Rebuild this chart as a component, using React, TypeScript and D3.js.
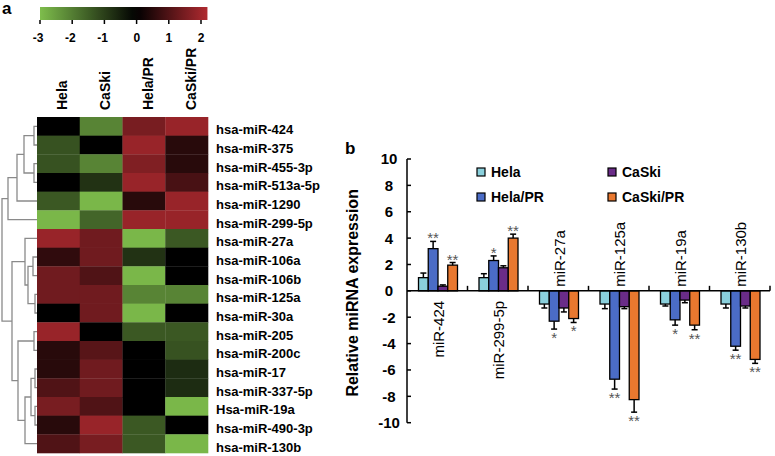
import React from "react";
import * as d3 from "d3";

// ---------- Heatmap data ----------
const heatCols = ["Hela", "CaSki", "Hela/PR", "CaSki/PR"];
const heatRows = [
  "hsa-miR-424", "hsa-miR-375", "hsa-miR-455-3p", "hsa-miR-513a-5p", "hsa-miR-1290",
  "hsa-miR-299-5p", "hsa-miR-27a", "hsa-miR-106a", "hsa-miR-106b", "hsa-miR-125a",
  "hsa-miR-30a", "hsa-miR-205", "hsa-miR-200c", "hsa-miR-17", "hsa-miR-337-5p",
  "Hsa-miR-19a", "hsa-miR-490-3p", "hsa-miR-130b",
];
const heatValues = [
  [0, -2.1, 1.5, 1.9],
  [-1.3, 0, 1.9, 0.5],
  [-1.3, -2.1, 1.6, 0.5],
  [0, -0.8, 1.9, 0.9],
  [-1.4, -2.9, 0.5, 1.9],
  [-2.9, -1.6, 1.9, 1.9],
  [1.9, 1.4, -2.9, -1.4],
  [0.6, 1.4, -0.8, 0],
  [1.4, 1.0, -2.9, 0],
  [1.4, 1.4, -2.1, -2.1],
  [0, 1.4, -2.9, 0],
  [1.9, 0, -1.4, -1.4],
  [0.5, 1.1, 0, -1.3],
  [0.5, 1.4, 0, -0.7],
  [1.0, 1.4, 0, -0.7],
  [1.5, 1.0, 0, -2.9],
  [0.5, 1.9, -1.4, 0],
  [1.0, 1.5, -1.4, -2.9],
];
const colorTicks = [-3, -2, -1, 0, 1, 2];
const colorDomain = [-3, 0, 2.2];

// Dendrogram merges: [nodeA, nodeB, height]; leaves 0..17, merge k -> node 18+k
const dendroMerges: [number, number, number][] = [
  [0, 1, 3],
  [2, 3, 3],
  [18, 19, 13],
  [20, 4, 20],
  [21, 5, 29],
  [7, 8, 4],
  [9, 10, 2],
  [23, 24, 9],
  [6, 25, 12],
  [11, 12, 3],
  [13, 14, 2],
  [15, 16, 2],
  [28, 29, 6],
  [30, 17, 12],
  [27, 31, 19],
  [26, 32, 25],
  [22, 33, 35],
];

// ---------- Bar chart data ----------
const barCats = ["miR-424", "miR-299-5p", "miR-27a", "miR-125a", "miR-19a", "miR-130b"];
const barSeries = ["Hela", "Hela/PR", "CaSki", "CaSki/PR"];
const helaVals = [1.0, 1.0, -1.0, -1.0, -1.0, -1.0];
const helaPRVals = [3.2, 2.3, -2.3, -6.7, -2.2, -4.2];
const caskiVals = [0.35, 1.75, -1.3, -1.2, -0.7, -1.15];
const caskiPRVals = [1.95, 4.0, -2.1, -8.25, -2.6, -5.2];
const helaErr = [0.35, 0.3, 0.3, 0.35, 0.15, 0.3];
const helaPRErr = [0.55, 0.35, 0.6, 0.75, 0.4, 0.3];
const caskiErr = [0.1, 0.15, 0.3, 0.15, 0.2, 0.15];
const caskiPRErr = [0.2, 0.3, 0.3, 0.95, 0.35, 0.3];
const helaStars = ["", "", "", "", "", ""];
const helaPRStars = ["**", "*", "*", "**", "*", "**"];
const caskiStars = ["", "", "", "", "", ""];
const caskiPRStars = ["**", "**", "*", "**", "**", "**"];
const yTicks = [-10, -8, -6, -4, -2, 0, 2, 4, 6, 8, 10];

const seriesValues = [helaVals, helaPRVals, caskiVals, caskiPRVals];
const seriesErrors = [helaErr, helaPRErr, caskiErr, caskiPRErr];
const seriesStars = [helaStars, helaPRStars, caskiStars, caskiPRStars];
const seriesColors = ["#8ad0dc", "#4b6cc6", "#6a2c88", "#e9782f"];

const FONT = "'Liberation Sans', Arial, Helvetica, sans-serif";

export default function App() {
  // Heatmap geometry
  const hx = d3.scaleBand<string>().domain(heatCols).range([37, 208]);
  const hy = d3.scaleBand<string>().domain(heatRows).range([117, 453]);
  const color = d3
    .scaleLinear<string>()
    .domain(colorDomain)
    .range(["#7ebd4c", "#000000", "#b02a30"])
    .interpolate(d3.interpolateRgb);
  const cbx = d3.scaleLinear().domain([-3, 2]).range([40, 201]);
  const cbTop = 7;
  const cbBottom = 20;

  // Dendrogram
  const dx = d3.scaleLinear().domain([0, 35]).range([37, 2]);
  const nodeY: number[] = heatRows.map((r) => (hy(r) as number) + hy.bandwidth() / 2);
  const nodeX: number[] = heatRows.map(() => 37);
  const dendroPaths: string[] = [];
  dendroMerges.forEach(([a, b, h]) => {
    const x = dx(h);
    const p = d3.path();
    p.moveTo(nodeX[a], nodeY[a]);
    p.lineTo(x, nodeY[a]);
    p.lineTo(x, nodeY[b]);
    p.lineTo(nodeX[b], nodeY[b]);
    dendroPaths.push(p.toString());
    nodeY.push((nodeY[a] + nodeY[b]) / 2);
    nodeX.push(x);
  });

  // Bar chart geometry
  const bx = d3.scaleBand<string>().domain(barCats).range([407, 770]);
  const bInner = d3.scaleBand<string>().domain(barSeries).range([11.5, 50.5]);
  const by = d3.scaleLinear().domain([-10, 10]).range([422.7, 159]);
  const y0 = by(0);

  const gradStops = d3.range(0, 21).map((i) => {
    const v = colorDomain[0] + ((colorDomain[2] - colorDomain[0]) * i) / 20;
    return { offset: `${i * 5}%`, color: color(v) };
  });

  return (
    <svg
      width={775}
      height={456}
      style={{ position: "absolute", left: 0, top: 0, background: "#fff" }}
      fontFamily={FONT}
    >
      <defs>
        <linearGradient id="cbGrad" x1="0" x2="1" y1="0" y2="0">
          {gradStops.map((s, i) => (
            <stop key={i} offset={s.offset} stopColor={s.color} />
          ))}
        </linearGradient>
      </defs>
      <rect x={0} y={0} width={775} height={456} fill="#fff" />

      {/* Panel a */}
      <text x={2} y={14} fontSize={17} fontWeight="bold">a</text>

      {/* Color bar */}
      <rect
        x={cbx(-3)}
        y={cbTop}
        width={cbx(colorDomain[2]) - cbx(-3)}
        height={cbBottom - cbTop}
        fill="url(#cbGrad)"
      />
      {colorTicks.map((t) => (
        <g key={t}>
          <line x1={cbx(t)} x2={cbx(t)} y1={cbBottom} y2={cbBottom + 4} stroke="#000" strokeWidth={1.5} />
          <text x={cbx(t) + 3.5} y={42} fontSize={12} fontWeight="bold" textAnchor="end">
            {t}
          </text>
        </g>
      ))}

      {/* Column labels */}
      {heatCols.map((c) => (
        <text
          key={c}
          transform={`translate(${(hx(c) as number) + hx.bandwidth() / 2 + 4},110) rotate(-90)`}
          fontSize={14}
          fontWeight="bold"
          dy="0.35em"
        >
          {c}
        </text>
      ))}

      {/* Heatmap cells */}
      {heatRows.map((r, ri) =>
        heatCols.map((c, ci) => (
          <rect
            key={`${r}-${c}`}
            x={hx(c)}
            y={hy(r)}
            width={hx.bandwidth() + 0.3}
            height={hy.bandwidth() + 0.3}
            fill={color(heatValues[ri][ci])}
          />
        ))
      )}

      {/* Row labels */}
      {heatRows.map((r) => (
        <text
          key={r}
          x={216}
          y={(hy(r) as number) + hy.bandwidth() / 2 + 8}
          fontSize={13}
          fontWeight="bold"
        >
          {r}
        </text>
      ))}

      {/* Dendrogram */}
      {dendroPaths.map((d, i) => (
        <path key={i} d={d} fill="none" stroke="#8a8a8a" strokeWidth={1.3} />
      ))}

      {/* Panel b */}
      <text x={345} y={154} fontSize={17} fontWeight="bold">b</text>

      {/* Y axis */}
      <line x1={407} x2={407} y1={by(10)} y2={by(-10)} stroke="#000" strokeWidth={1.5} />
      {yTicks.map((t) => (
        <g key={t}>
          <line x1={407} x2={411} y1={by(t)} y2={by(t)} stroke="#000" strokeWidth={1.5} />
          <text x={389} y={by(t)} dy="0.36em" fontSize={15} fontWeight="bold" textAnchor="middle">
            {t}
          </text>
        </g>
      ))}
      <text
        transform={`translate(352,${by(0) + 2}) rotate(-90)`}
        fontSize={16}
        fontWeight="bold"
        textAnchor="middle"
        dy="0.35em"
      >
        Relative miRNA expression
      </text>

      {/* Bars */}
      {barCats.map((cat, ci) =>
        barSeries.map((s, si) => {
          const v = seriesValues[si][ci];
          const e = seriesErrors[si][ci];
          const x = (bx(cat) as number) + (bInner(s) as number);
          const w = bInner.bandwidth();
          const cx = x + w / 2;
          const yTop = by(Math.max(0, v));
          const yBot = by(Math.min(0, v));
          const ye1 = by(v + (v >= 0 ? e : -e));
          const star = seriesStars[si][ci];
          return (
            <g key={`${cat}-${s}`}>
              <rect x={x} y={yTop} width={w} height={yBot - yTop} fill={seriesColors[si]} stroke="#000" strokeWidth={1.3} />
              <line x1={cx} x2={cx} y1={by(v)} y2={ye1} stroke="#000" strokeWidth={1.5} />
              <line x1={cx - 3} x2={cx + 3} y1={ye1} y2={ye1} stroke="#000" strokeWidth={1.5} />
              {star && (
                <text
                  x={cx}
                  y={v >= 0 ? ye1 + 2 : ye1 + 14}
                  fontSize={15}
                  textAnchor="middle"
                  fill="#555"
                >
                  {star}
                </text>
              )}
            </g>
          );
        })
      )}

      {/* X axis */}
      <line x1={407} x2={770} y1={y0} y2={y0} stroke="#000" strokeWidth={1.5} />
      {barCats.map((cat) => {
        const xe = (bx(cat) as number) + bx.bandwidth();
        return <line key={cat} x1={xe} x2={xe} y1={y0} y2={y0 - 5} stroke="#000" strokeWidth={1.5} />;
      })}
      {barCats.map((cat, ci) => {
        const cx = (bx(cat) as number) + bx.bandwidth() / 2 + 1;
        const positive = seriesValues.every((vals) => vals[ci] >= 0);
        return positive ? (
          <text
            key={cat}
            transform={`translate(${cx},${y0 + 10}) rotate(-90)`}
            fontSize={15}
            textAnchor="end"
            dy="0.35em"
          >
            {cat}
          </text>
        ) : (
          <text
            key={cat}
            transform={`translate(${cx},${y0 - 4}) rotate(-90)`}
            fontSize={15}
            textAnchor="start"
            dy="0.35em"
          >
            {cat}
          </text>
        );
      })}

      {/* Legend */}
      {barSeries.map((s, si) => {
        const lx = si % 2 === 0 ? 477 : 608;
        const ly = si < 2 ? 172 : 197;
        const order = [0, 2, 1, 3][si];
        const col = order % 2 === 0 ? 477 : 608;
        const row = order < 2 ? 172 : 197;
        void lx;
        void ly;
        return (
          <g key={s}>
            <rect x={col} y={row - 4} width={8} height={8} fill={seriesColors[si]} stroke="#000" strokeWidth={1.2} />
            <text x={col + 14} y={row} dy="0.35em" fontSize={14} fontWeight="bold">
              {s}
            </text>
          </g>
        );
      })}
    </svg>
  );
}
